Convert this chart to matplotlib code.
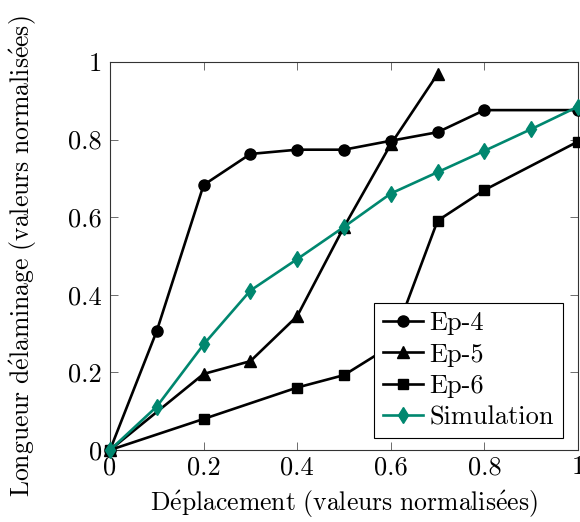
import numpy as np
import matplotlib
matplotlib.use("Agg")
import matplotlib.pyplot as plt
from matplotlib.ticker import FuncFormatter

# ---- data ----
x_ep4 = [0, 0.1, 0.2, 0.3, 0.4, 0.5, 0.6, 0.7, 0.8, 1.0]
y_ep4 = [0, 0.307, 0.683, 0.763, 0.774, 0.774, 0.797, 0.819, 0.876, 0.876]

x_ep5 = [0, 0.2, 0.3, 0.4, 0.5, 0.6, 0.7]
y_ep5 = [0, 0.196, 0.229, 0.345, 0.575, 0.788, 0.969]

x_ep6 = [0, 0.2, 0.4, 0.5, 0.6, 0.7, 0.8, 1.0]
y_ep6 = [0, 0.080, 0.161, 0.193, 0.268, 0.591, 0.670, 0.795]

x_sim = [0, 0.1, 0.2, 0.3, 0.4, 0.5, 0.6, 0.7, 0.8, 0.9, 1.0]
y_sim = [0, 0.112, 0.272, 0.411, 0.492, 0.575, 0.661, 0.716, 0.771, 0.827, 0.885]

ticks = [0, 0.2, 0.4, 0.6, 0.8, 1]

xlabel = r"$\mathrm{D\acute{e}placement\ (valeurs\ normalis\acute{e}es)}$"
ylabel = r"$\mathrm{Longueur\ d\acute{e}laminage\ (valeurs\ normalis\acute{e}es)}$"

# ---- style ----
plt.rcParams["font.family"] = ["cmr10", "DejaVu Serif"]
plt.rcParams["mathtext.fontset"] = "cm"
plt.rcParams["axes.formatter.use_mathtext"] = True

fs = 19
teal = "#00876f"

fig = plt.figure(figsize=(5.8, 5.22), dpi=100)
ax = fig.add_axes([110 / 580, 72 / 522, 468 / 580, 388 / 522])

lw = 1.9
ax.plot(x_ep4, y_ep4, color="black", lw=lw, marker="o", ms=8, clip_on=False, label="Ep-4", zorder=3)
ax.plot(x_ep5, y_ep5, color="black", lw=lw, marker="^", ms=8, clip_on=False, label="Ep-5", zorder=3)
ax.plot(x_ep6, y_ep6, color="black", lw=lw, marker="s", ms=7.5, clip_on=False, label="Ep-6", zorder=3)
ax.plot(x_sim, y_sim, color=teal, lw=lw, marker="d", ms=8, clip_on=False, label="Simulation", zorder=4)

ax.set_xlim(0, 1)
ax.set_ylim(0, 1)
ax.set_xticks(ticks)
ax.set_yticks(ticks)
fmt = FuncFormatter(lambda v, p: "%g" % v)
ax.xaxis.set_major_formatter(fmt)
ax.yaxis.set_major_formatter(fmt)
ax.tick_params(direction="in", length=6, width=0.6, color="#555555",
               top=True, right=True, labelsize=fs)
ax.tick_params(axis="x", pad=4)
ax.tick_params(axis="y", pad=6)
for s in ax.spines.values():
    s.set_linewidth(0.8)
    s.set_color("#333333")

ax.set_xlabel(xlabel, fontsize=18.5, labelpad=7)
ax.set_ylabel(ylabel, fontsize=18.5)
ax.yaxis.set_label_coords(-0.152, 0.5)

leg = ax.legend(loc="lower right", bbox_to_anchor=(0.968, 0.03), fontsize=fs,
                frameon=True, fancybox=False, edgecolor="black", framealpha=1,
                handlelength=1.5, borderpad=0.34, labelspacing=0.29, handletextpad=0.25,
                borderaxespad=0)
leg.get_frame().set_linewidth(0.8)
leg.set_zorder(5)

fig.savefig("out.png", dpi=100)
